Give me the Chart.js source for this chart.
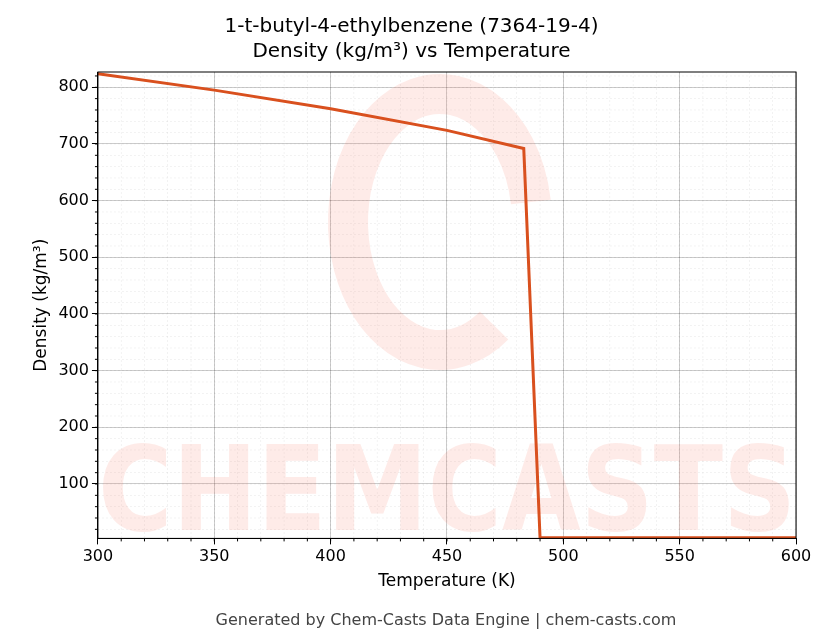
<!DOCTYPE html>
<html>
<head>
<meta charset="utf-8">
<script src="https://cdn.jsdelivr.net/npm/chart.js@4/dist/chart.umd.min.js"></script>
<style>
  body { margin: 0; background: #fff; }
  #wrap { width: 830px; height: 644px; position: relative; }
</style>
</head>
<body>
<div id="wrap"><canvas id="myChart"></canvas></div>
<script>
const temps = [300, 350, 400, 450, 483, 490, 600];
const density = [824, 795, 762, 724, 692, 5, 5];
const xTicks = [300, 350, 400, 450, 500, 550, 600];
const yTicks = [100, 200, 300, 400, 500, 600, 700, 800];

const minorGrid = {
  id: 'minorGrid',
  beforeDatasetsDraw(chart) {
    const { ctx, chartArea: a, scales: { x, y } } = chart;
    ctx.save();
    ctx.strokeStyle = 'rgba(0,0,0,0.1)';
    ctx.lineWidth = 0.5;
    ctx.setLineDash([2, 2]);
    for (let v = 300; v <= 600; v += 10) {
      const px = x.getPixelForValue(v);
      ctx.beginPath(); ctx.moveTo(px, a.top); ctx.lineTo(px, a.bottom); ctx.stroke();
    }
    for (let v = 20; v <= 820; v += 20) {
      const py = y.getPixelForValue(v);
      ctx.beginPath(); ctx.moveTo(a.left, py); ctx.lineTo(a.right, py); ctx.stroke();
    }
    ctx.setLineDash([]);
    ctx.strokeStyle = '#000';
    ctx.lineWidth = 1;
    for (let v = 310; v < 600; v += 10) {
      const px = x.getPixelForValue(v);
      ctx.beginPath(); ctx.moveTo(px, a.bottom); ctx.lineTo(px, a.bottom + 3); ctx.stroke();
    }
    for (let v = 20; v <= 820; v += 20) {
      const py = y.getPixelForValue(v);
      ctx.beginPath(); ctx.moveTo(a.left, py); ctx.lineTo(a.left - 3, py); ctx.stroke();
    }
    ctx.restore();
    // watermark
    ctx.save();
    ctx.fillStyle = 'rgba(250,120,100,0.15)';
    ctx.font = 'bold 118px "DejaVu Sans"';
    ctx.textAlign = 'center';
    ctx.fillText('CHEMCASTS', (a.left + a.right) / 2, a.bottom - 8, a.right - a.left);
    ctx.strokeStyle = 'rgba(250,120,100,0.15)';
    ctx.lineWidth = 40;
    ctx.beginPath();
    ctx.ellipse(440, 222, 92, 128, 0, 0.3 * Math.PI, 1.95 * Math.PI);
    ctx.stroke();
    ctx.restore();
  },
  afterDraw(chart) {
    const { ctx, chartArea: a } = chart;
    ctx.save();
    ctx.strokeStyle = '#000';
    ctx.lineWidth = 1;
    ctx.strokeRect(a.left, a.top, a.right - a.left, a.bottom - a.top);
    ctx.fillStyle = '#444';
    ctx.font = '16px "DejaVu Sans"';
    ctx.textAlign = 'center';
    ctx.fillText('Generated by Chem-Casts Data Engine | chem-casts.com', 446, 625);
    ctx.restore();
  }
};

new Chart('myChart', {
  type: 'line',
  data: {
    datasets: [{
      data: temps.map((t, i) => ({ x: t, y: density[i] })),
      borderColor: '#d9501e',
      borderWidth: 3,
      pointRadius: 0,
      tension: 0
    }]
  },
  options: {
    responsive: true,
    maintainAspectRatio: false,
    animation: false,
    layout: { padding: { left: 27, right: 34, top: 0, bottom: 48 } },
    plugins: {
      legend: { display: false },
      title: {
        display: true,
        text: ['1-t-butyl-4-ethylbenzene (7364-19-4)', 'Density (kg/m³) vs Temperature'],
        color: '#000',
        font: { family: 'DejaVu Sans', size: 20, weight: 'normal', lineHeight: 1.25 },
        padding: { top: 14, bottom: 8 }
      }
    },
    scales: {
      x: {
        type: 'linear', min: 300, max: 600,
        afterBuildTicks: s => { s.ticks = xTicks.map(v => ({ value: v })); },
        grid: { color: 'rgba(0,0,0,0.2)', tickLength: 6, tickColor: '#000' },
        border: { color: '#000' },
        ticks: { color: '#000', font: { family: 'DejaVu Sans', size: 16 } },
        title: { display: true, text: 'Temperature (K)', color: '#000', font: { family: 'DejaVu Sans', size: 17 }, padding: { top: 2 } }
      },
      y: {
        type: 'linear', min: 4, max: 827,
        afterBuildTicks: s => { s.ticks = yTicks.map(v => ({ value: v })); },
        grid: { color: 'rgba(0,0,0,0.2)', tickLength: 6, tickColor: '#000' },
        border: { color: '#000' },
        ticks: { color: '#000', font: { family: 'DejaVu Sans', size: 16 } },
        title: { display: true, text: 'Density (kg/m³)', color: '#000', font: { family: 'DejaVu Sans', size: 17 } }
      }
    }
  },
  plugins: [minorGrid]
});
</script>
</body>
</html>
